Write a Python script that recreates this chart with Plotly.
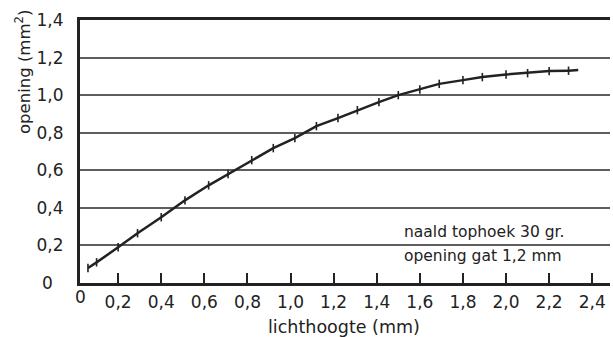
import plotly.graph_objects as go

# data
lichthoogte = [0.06, 0.10, 0.20, 0.29, 0.40, 0.51, 0.62, 0.71, 0.82, 0.92, 1.02, 1.12,
               1.22, 1.31, 1.41, 1.50, 1.60, 1.69, 1.80, 1.89, 2.00, 2.10, 2.20, 2.29]
opening = [0.08, 0.11, 0.19, 0.265, 0.35, 0.44, 0.52, 0.58, 0.654, 0.718, 0.771, 0.835,
           0.878, 0.92, 0.963, 1.0, 1.03, 1.06, 1.08, 1.096, 1.11, 1.117, 1.128, 1.13]
line_end_x = [2.29, 2.335]
line_end_y = [1.13, 1.134]

x_ticks = [0.2, 0.4, 0.6, 0.8, 1.0, 1.2, 1.4, 1.6, 1.8, 2.0, 2.2, 2.4]
x_ticklabels = ["0,2", "0,4", "0,6", "0,8", "1,0", "1,2", "1,4", "1,6", "1,8", "2,0", "2,2", "2,4"]
x_origin_label = "0"
y_ticks = [0, 0.2, 0.4, 0.6, 0.8, 1.0, 1.2, 1.4]
y_ticklabels = ["0\u00a0\u00a0", "0,2", "0,4", "0,6", "0,8", "1,0", "1,2", "1,4"]

ink = "#222222"
font = "DejaVu Sans, Verdana, sans-serif"

W, H = 613, 337
L, R, T, B = 80, 3, 20, 54
pw, ph = W - L - R, H - T - B

fig = go.Figure()
fig.add_trace(go.Scatter(x=line_end_x, y=line_end_y, mode="lines",
                         line=dict(color=ink, width=2.5), showlegend=False))
fig.add_trace(go.Scatter(
    x=lichthoogte, y=opening, mode="lines+markers",
    line=dict(color=ink, width=2.5),
    marker=dict(symbol="line-ns", size=6, line=dict(color=ink, width=1.6)),
    showlegend=False))

fig.update_layout(
    width=W, height=H,
    margin=dict(l=L, r=R, t=T, b=B),
    paper_bgcolor="white", plot_bgcolor="white",
    font=dict(family=font, color=ink),
    xaxis=dict(range=[0.023, 0.023 + pw / 215.5], tickvals=x_ticks, ticktext=x_ticklabels,
               ticks="inside", ticklen=10, tickwidth=1.5, tickcolor=ink,
               showline=True, linewidth=3, linecolor=ink, mirror=True,
               showgrid=False, zeroline=False, ticklabelstandoff=2,
               tickfont=dict(size=17, color=ink)),
    yaxis=dict(range=[0, 1.4], tickvals=y_ticks, ticktext=y_ticklabels,
               showline=True, linewidth=3, linecolor=ink,
               showgrid=True, gridcolor="#5e5e5e", gridwidth=1.6,
               zeroline=False, ticks="", ticklabelstandoff=10,
               tickfont=dict(size=17, color=ink)),
)

# "0" under the origin
fig.add_annotation(text=x_origin_label, xref="paper", yref="paper",
                   x=0, y=-14 / ph, showarrow=False,
                   font=dict(size=17, color=ink), xanchor="center", yanchor="middle")
fig.add_annotation(text="lichthoogte (mm)", xref="paper", yref="paper",
                   x=(344 - L) / pw, y=-(315 - 283) / ph, showarrow=False,
                   font=dict(size=17.5, color=ink), xanchor="center", yanchor="top")
fig.add_annotation(text="opening (mm<sup>2</sup>)", xref="paper", yref="paper",
                   x=(23 - L) / pw, y=(283 - 72) / ph, showarrow=False, textangle=-90,
                   font=dict(size=16.5, color=ink), xanchor="center", yanchor="middle")
fig.add_annotation(text="naald tophoek 30 gr.", xref="paper", yref="paper",
                   x=(402 - L) / pw, y=(283 - 232) / ph, showarrow=False,
                   font=dict(size=15.5, color=ink), xanchor="left", yanchor="middle")
fig.add_annotation(text="opening gat 1,2 mm", xref="paper", yref="paper",
                   x=(402 - L) / pw, y=(283 - 256) / ph, showarrow=False,
                   font=dict(size=15.5, color=ink), xanchor="left", yanchor="middle")

fig.write_html("out.html", config={"displayModeBar": False},
               post_script="document.body.style.margin='0px';")
